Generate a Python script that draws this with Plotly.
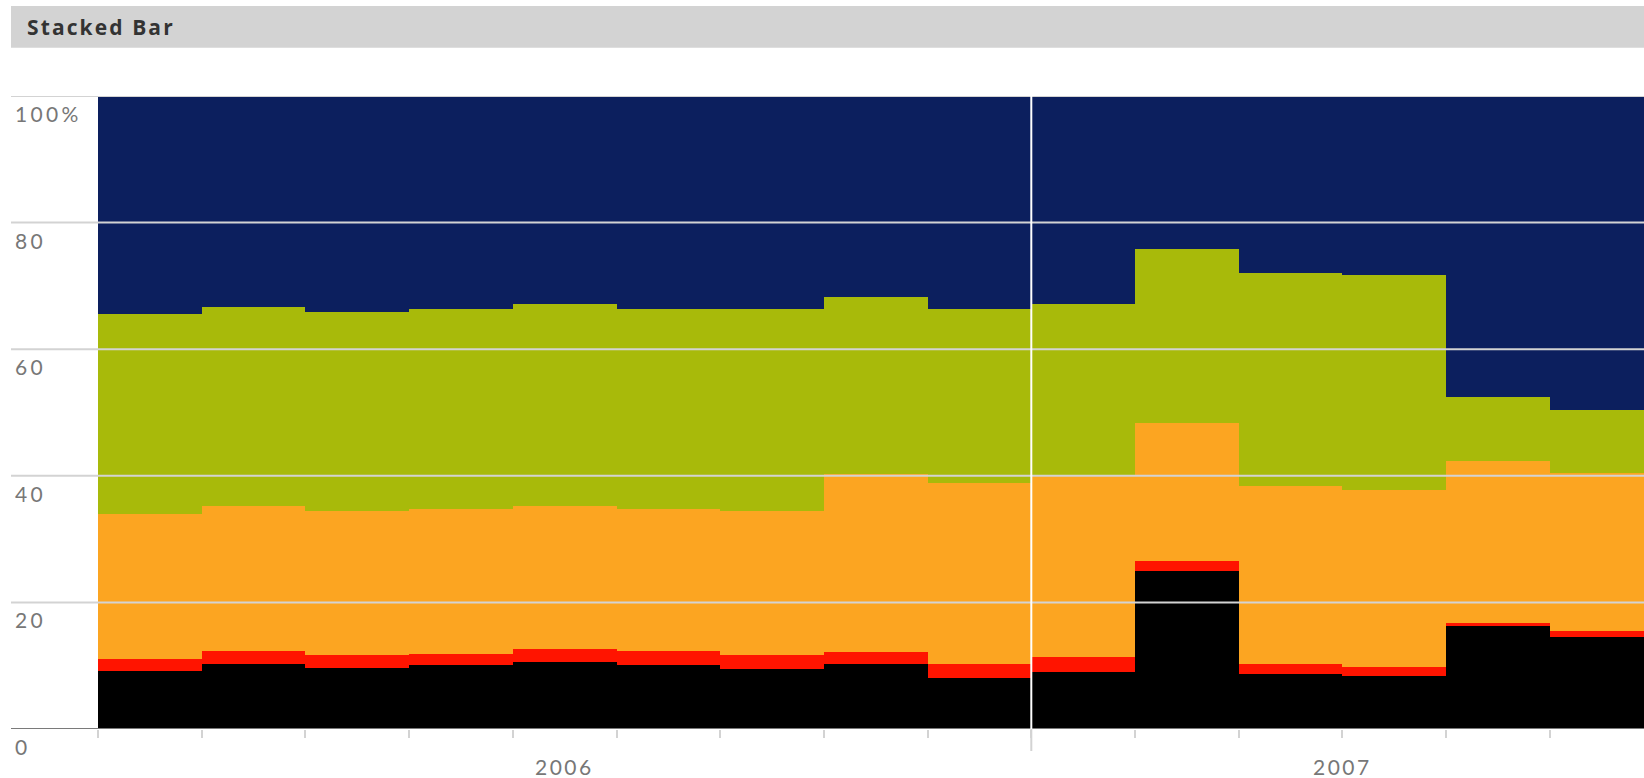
import plotly.graph_objects as go

months = ["Apr 2006", "May 2006", "Jun 2006", "Jul 2006", "Aug 2006", "Sep 2006",
          "Oct 2006", "Nov 2006", "Dec 2006", "Jan 2007", "Feb 2007", "Mar 2007",
          "Apr 2007", "May 2007", "Jun 2007"]
years = ["2006", "2007"]
year_of_month = [m.split()[1] for m in months]

black_vals = [9.2, 10.3, 9.7, 10.1, 10.6, 10.1, 9.5, 10.2, 8.1, 9.0, 25.0, 8.7, 8.4, 16.2, 14.6]
red_vals = [1.9, 2.1, 2.0, 1.8, 2.0, 2.2, 2.2, 2.0, 2.2, 2.3, 1.6, 1.6, 1.4, 0.6, 0.9]
orange_vals = [22.9, 22.9, 22.8, 22.9, 22.6, 22.4, 22.8, 28.1, 28.6, 28.6, 21.8, 28.1, 28.0, 25.6, 25.0]
green_vals = [31.6, 31.4, 31.4, 31.5, 32.0, 31.6, 31.8, 27.9, 27.5, 27.3, 27.4, 33.7, 34.0, 10.1, 9.9]
navy_vals = [34.4, 33.3, 34.1, 33.7, 32.8, 33.7, 33.7, 31.8, 33.6, 32.8, 24.2, 27.9, 28.2, 47.5, 49.6]

series_names = ["Series 1", "Series 2", "Series 3", "Series 4", "Series 5"]
series_vals = [black_vals, red_vals, orange_vals, green_vals, navy_vals]
series_colors = ["#000000", "#FF1400", "#FCA521", "#A8BA0A", "#0C1F5E"]

y_tick_vals = [0, 20, 40, 60, 80, 100]
y_tick_text = ["0", "20", "40", "60", "80", "100%"]

W, H = 1644, 778
ML, MT, MB = 98, 96, 49
plot_w = W - ML
plot_h = H - MT - MB
left_px = 11  # gridlines / title bar start (px from left)
x_left_paper = (left_px - ML) / plot_w

xs = list(range(len(months)))

fig = go.Figure()
for name, vals, col in zip(series_names, series_vals, series_colors):
    fig.add_trace(go.Bar(x=xs, y=vals, name=name, marker=dict(color=col, line=dict(width=0)),
                         customdata=months, hovertemplate="%{customdata}: %{y}<extra>" + name + "</extra>"))

label_font = dict(family="Lato, 'Open Sans', sans-serif", size=21, color="#777777")

def spaced(t, sp=2):
    return f"<span style='letter-spacing:{sp}px'>{t}</span>"

shapes = []
annotations = []
# horizontal gridlines (drawn above bars)
for v in y_tick_vals:
    if v == 0:
        continue
    shapes.append(dict(type="line", xref="paper", yref="y", x0=x_left_paper, x1=1, y0=v, y1=v,
                       line=dict(color="#D3D3D3", width=2), layer="above"))
# baseline
shapes.append(dict(type="line", xref="paper", yref="y", x0=x_left_paper, x1=1, y0=0, y1=0,
                   line=dict(color="#7A7A7A", width=2), layer="above"))
# year boundary
boundary = year_of_month.index(years[1]) - 0.5
shapes.append(dict(type="line", xref="x", yref="paper", x0=boundary, x1=boundary, y0=0, y1=1,
                   line=dict(color="#FFFFFF", width=2), layer="above"))
shapes.append(dict(type="line", xref="x", yref="paper", x0=boundary, x1=boundary, y0=0, y1=-22 / plot_h,
                   line=dict(color="#D3D3D3", width=2), layer="above"))
# title bar
shapes.append(dict(type="rect", xref="paper", yref="paper", x0=x_left_paper, x1=1.01,
                   y0=(H - MB - 47.7) / plot_h, y1=(H - MB - 6) / plot_h,
                   fillcolor="#D3D3D3", line=dict(width=0), layer="above"))

annotations.append(dict(xref="paper", yref="paper", x=(25 - ML) / plot_w, y=(H - MB - 27.5) / plot_h,
                        xanchor="left", yanchor="middle", showarrow=False,
                        text="<b>" + spaced("Stacked Bar", 2.1) + "</b>",
                        font=dict(family="'Open Sans', Lato, sans-serif", size=21, color="#333333")))

for v, t in zip(y_tick_vals, y_tick_text):
    annotations.append(dict(xref="paper", yref="y", x=(13 - ML) / plot_w, y=v, xanchor="left",
                            yanchor="top", yshift=-3, showarrow=False, text=spaced(t, 3.3), font=label_font))

for yr in years:
    idx = [i for i, y in enumerate(year_of_month) if y == yr]
    center = sum(idx) / len(idx)
    annotations.append(dict(xref="x", yref="paper", x=center, y=0, xanchor="center", yanchor="top",
                            yshift=-23, showarrow=False, text=spaced(yr, 2.5), font=label_font))

x_max = -0.5 + plot_w / 103.7

fig.update_layout(
    width=W, height=H, autosize=False,
    margin=dict(l=ML, r=0, t=MT, b=MB, pad=0),
    barmode="stack", bargap=0,
    showlegend=False,
    paper_bgcolor="white", plot_bgcolor="white",
    xaxis=dict(range=[-0.5, x_max], tickmode="array", tickvals=[i - 0.5 for i in range(len(months) + 1)],
               ticks="outside", ticklen=8, tickwidth=2, tickcolor="#D3D3D3",
               showticklabels=False, showgrid=False, zeroline=False, showline=False, fixedrange=True),
    yaxis=dict(range=[0, 100], showticklabels=False, showgrid=False, zeroline=False, showline=False,
               fixedrange=True),
    shapes=shapes, annotations=annotations,
)

fig.write_html("out.html", config={"displayModeBar": False},
               post_script="document.body.style.margin='0';document.body.style.overflow='hidden';")
